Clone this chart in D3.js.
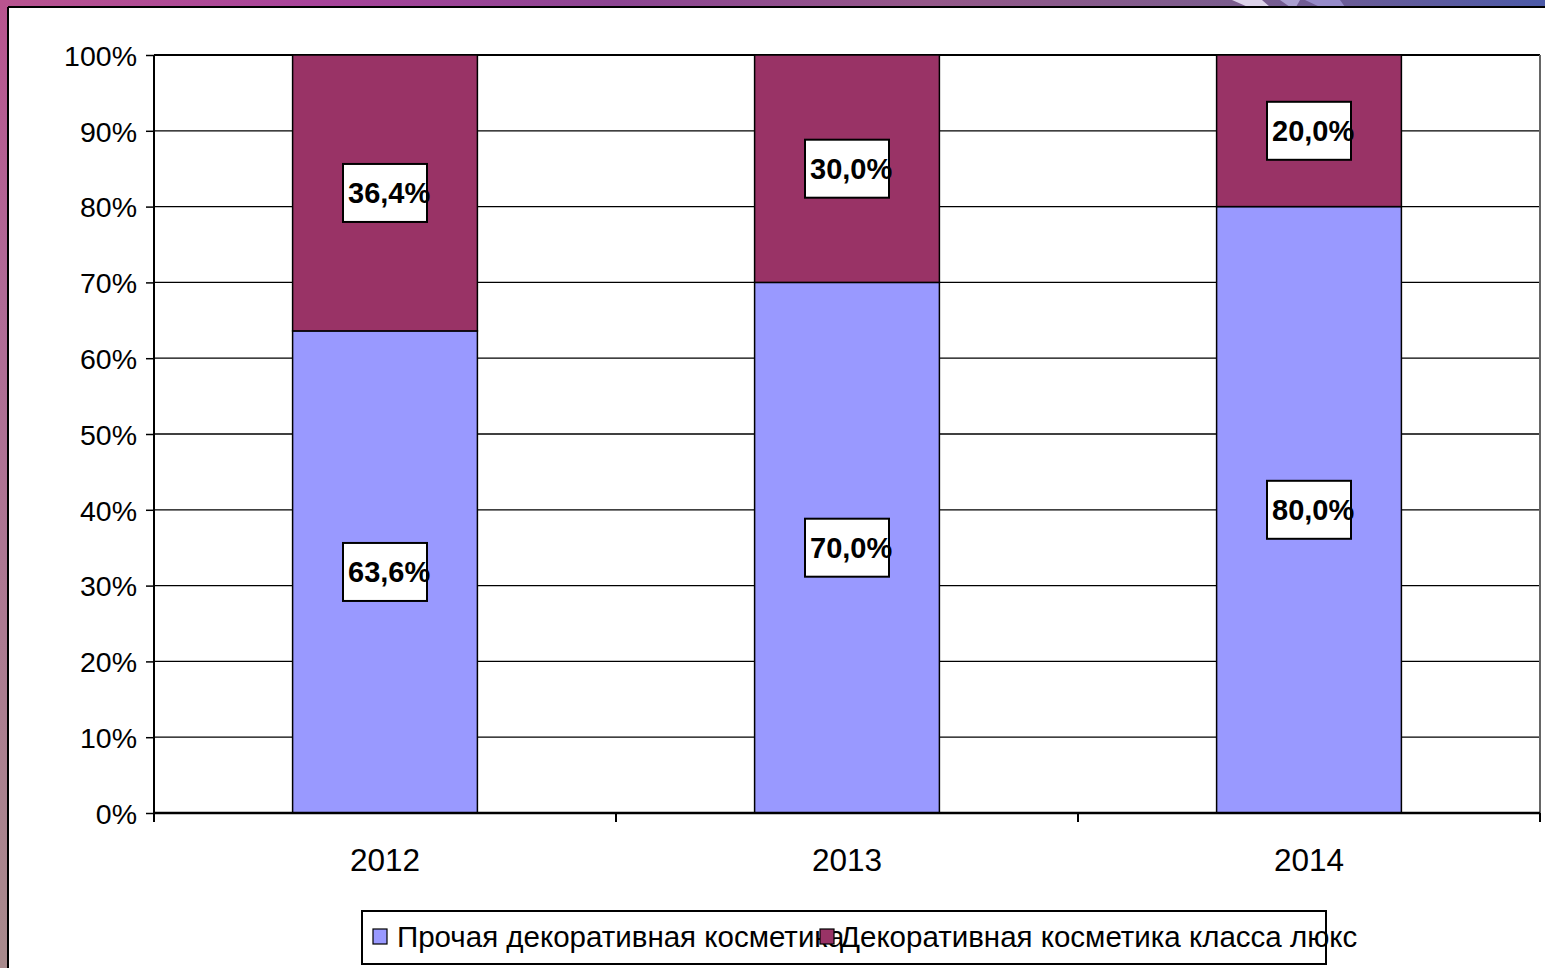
<!DOCTYPE html>
<html><head><meta charset="utf-8">
<script src="https://cdn.jsdelivr.net/npm/d3@7"></script>
<style>html,body{margin:0;padding:0;overflow:hidden;background:#fff}</style>
</head><body>
<svg id="chart" width="1545" height="968"></svg>
<script>
const categories = ["2012", "2013", "2014"];
const seriesNames = ["Прочая декоративная косметика", "Декоративная косметика класса люкс"];
const otherValues = [63.6, 70.0, 80.0];
const luxuryValues = [36.4, 30.0, 20.0];
const yTickValues = [0, 10, 20, 30, 40, 50, 60, 70, 80, 90, 100];
const seriesColors = ["#9999ff", "#993366"];

(function () {
const svg = d3.select("#chart");
const defs = svg.append("defs");
const gTop = defs.append("linearGradient").attr("id", "gTop").attr("x1", 0).attr("x2", 1).attr("y1", 0).attr("y2", 0);
[["0%", "#b8548f"], ["20%", "#a8449a"], ["40%", "#8c4592"], ["60%", "#955889"], ["80%", "#7b5d8e"], ["100%", "#4c5aa8"]]
  .forEach(s => gTop.append("stop").attr("offset", s[0]).attr("stop-color", s[1]));
const gLeft = defs.append("linearGradient").attr("id", "gLeft").attr("x1", 0).attr("x2", 0).attr("y1", 0).attr("y2", 1);
[["0%", "#b8548f"], ["30%", "#b06a96"], ["100%", "#a88a8c"]]
  .forEach(s => gLeft.append("stop").attr("offset", s[0]).attr("stop-color", s[1]));

// frame
svg.append("rect").attr("x", 0).attr("y", 0).attr("width", 1545).attr("height", 7).attr("fill", "url(#gTop)");
svg.append("rect").attr("x", 0).attr("y", 0).attr("width", 8).attr("height", 968).attr("fill", "url(#gLeft)");
svg.append("polygon").attr("points", "1232,0 1262,0 1270,7 1248,7").attr("fill", "#e8e0f4").attr("opacity", 0.9);
svg.append("polygon").attr("points", "1280,0 1300,0 1296,7 1290,7").attr("fill", "#b8b0e0").attr("opacity", 0.8);
svg.append("polygon").attr("points", "1305,0 1340,0 1345,7 1320,7").attr("fill", "#a8a0e0").attr("opacity", 0.7);
svg.append("line").attr("x1", 8).attr("x2", 1545).attr("y1", 7).attr("y2", 7).attr("stroke", "#000").attr("stroke-width", 2);
svg.append("line").attr("x1", 8).attr("x2", 8).attr("y1", 7).attr("y2", 968).attr("stroke", "#000").attr("stroke-width", 2);

const pLeft = 154, pRight = 1540, pTop = 55, pBottom = 813;
const x = d3.scaleBand().domain(categories).range([pLeft, pRight]).paddingInner(0.6).paddingOuter(0.3);
const y = d3.scaleLinear().domain([0, 100]).range([pBottom, pTop]);
const font = "'Liberation Sans', Arial, sans-serif";

// gridlines
svg.append("g").selectAll("line").data(yTickValues.filter(d => d > 0)).join("line")
  .attr("x1", pLeft).attr("x2", pRight).attr("y1", d => y(d)).attr("y2", d => y(d))
  .attr("stroke", "#000").attr("stroke-width", d => d === 100 ? 2 : 1.3);
svg.append("line").attr("x1", pRight).attr("x2", pRight).attr("y1", pTop).attr("y2", pBottom)
  .attr("stroke", "#666").attr("stroke-width", 2);

// bars
const stackData = categories.map((c, i) => ({cat: c, s0: otherValues[i], s1: luxuryValues[i]}));
const series = d3.stack().keys(["s0", "s1"])(stackData);
const barG = svg.append("g");
series.forEach((s, si) => {
  barG.selectAll(null).data(s).join("rect")
    .attr("x", d => x(d.data.cat)).attr("width", x.bandwidth())
    .attr("y", d => y(d[1])).attr("height", d => y(d[0]) - y(d[1]))
    .attr("fill", seriesColors[si]).attr("stroke", "#000").attr("stroke-width", 1.5);
});

// y axis
const yAxis = svg.append("g").attr("transform", `translate(${pLeft},0)`)
  .call(d3.axisLeft(y).tickValues(yTickValues).tickSize(8).tickPadding(9).tickFormat(d => d + "%"));
yAxis.select(".domain").attr("stroke-width", 2).attr("d", `M-0,${pBottom + 8}V${pTop}`);
yAxis.selectAll(".tick line").attr("stroke-width", 1.5);
yAxis.selectAll("text").attr("font-family", font).attr("font-size", 28.5).attr("fill", "#000").attr("dy", "0.36em");

// x axis
const xAxis = svg.append("g").attr("transform", `translate(0,${pBottom})`)
  .call(d3.axisBottom(x).tickSize(0).tickPadding(34));
xAxis.select(".domain").attr("stroke-width", 2.5).attr("d", `M${pLeft},0H${pRight}`);
xAxis.selectAll("text").attr("font-family", font).attr("font-size", 31.5).attr("fill", "#000")
  .attr("y", 58).attr("dy", 0);
const boundaries = categories.map(c => x(c) - x.step() * x.paddingInner() / 2).concat([pRight]);
svg.append("g").selectAll("line").data(boundaries).join("line")
  .attr("x1", d => d).attr("x2", d => d).attr("y1", pBottom).attr("y2", pBottom + 9)
  .attr("stroke", "#000").attr("stroke-width", 2);

// data labels
const labelG = svg.append("g");
series.forEach((s, si) => {
  s.forEach(d => {
    const cx = x(d.data.cat) + x.bandwidth() / 2;
    const cy = y((d[0] + d[1]) / 2);
    const val = d[1] - d[0];
    labelG.append("rect").attr("x", cx - 42).attr("y", cy - 29).attr("width", 84).attr("height", 58)
      .attr("fill", "#fff").attr("stroke", "#000").attr("stroke-width", 2);
    labelG.append("text").attr("x", cx - 37).attr("y", cy + 10.5)
      .attr("font-family", font).attr("font-size", 29).attr("font-weight", "bold").attr("fill", "#000")
      .text(d3.format(".1f")(val).replace(".", ",") + "%");
  });
});

// legend
const legG = svg.append("g");
legG.append("rect").attr("x", 362).attr("y", 911).attr("width", 964).attr("height", 53)
  .attr("fill", "#fff").attr("stroke", "#000").attr("stroke-width", 2);
const legX = [373, 820];
seriesNames.forEach((n, i) => {
  legG.append("text").attr("x", legX[i] + (i === 0 ? 24 : 20)).attr("y", 947)
    .attr("font-family", font).attr("font-size", 29.5).attr("fill", "#000").text(n);
});
seriesNames.forEach((n, i) => {
  legG.append("rect").attr("x", legX[i]).attr("y", 929).attr("width", 14).attr("height", 15)
    .attr("fill", seriesColors[i]).attr("stroke", "#000").attr("stroke-width", 1.2);
});
})();
</script>
</body></html>
